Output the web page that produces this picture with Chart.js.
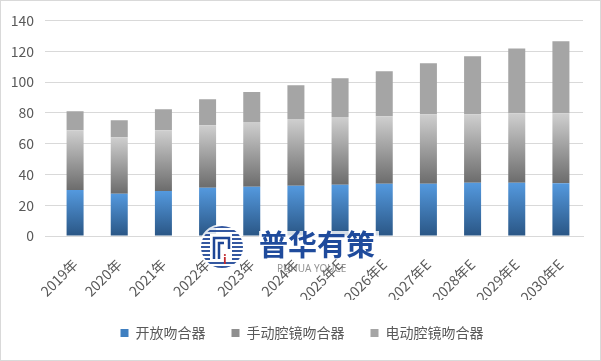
<!DOCTYPE html>
<html>
<head>
<meta charset="utf-8">
<script src="https://cdn.jsdelivr.net/npm/chart.js@4/dist/chart.umd.min.js"></script>
<style>
  body { margin: 0; background: #fff; }
  #box { width: 601px; height: 361px; box-sizing: border-box; border: 1px solid #d9d9d9; position: relative; }
</style>
</head>
<body>
<div id="box"><canvas id="myChart" width="599" height="359"></canvas></div>
<script>
/* 吻合器 market stacked bars */

let years = ["2019年", "2020年", "2021年", "2022年", "2023年", "2024年", "2025年E", "2026年E", "2027年E", "2028年E", "2029年E", "2030年E"];
let openStapler = [29.8, 27.4, 29.2, 31.3, 32.0, 32.6, 33.2, 33.9, 33.9, 34.5, 34.5, 34.3];
let manualStapler = [38.9, 36.8, 39.5, 40.6, 42.1, 43.4, 44.1, 43.9, 45.1, 44.5, 45.2, 45.4];
let electricStapler = [12.3, 11.0, 13.6, 16.9, 19.4, 21.9, 25.1, 29.1, 33.1, 37.7, 42.1, 46.7];
let yTicks = [0, 20, 40, 60, 80, 100, 120, 140];

let seriesData = [openStapler, manualStapler, electricStapler];

// gradient per bar segment, top light -> bottom dark
function segmentFill(topColor, bottomColor) {
  return function (ctx) {
    let chart = ctx.chart;
    let y = chart.scales.y;
    if (!y || ctx.dataIndex === undefined) return bottomColor;
    let i = ctx.dataIndex;
    let base = 0;
    for (let d = 0; d < ctx.datasetIndex; d++) base += seriesData[d][i];
    let top = base + seriesData[ctx.datasetIndex][i];
    let y0 = y.getPixelForValue(base);
    let y1 = y.getPixelForValue(top);
    if (!isFinite(y0) || !isFinite(y1) || y0 === y1) return bottomColor;
    let g = chart.ctx.createLinearGradient(0, y1, 0, y0);
    g.addColorStop(0, topColor);
    g.addColorStop(1, bottomColor);
    return g;
  };
}

// nudge legend a bit right, like the original
let legendShift = {
  id: "legendShift",
  afterLayout(chart) {
    if (chart.legend) {
      chart.legend.left += 10;
      chart.legend.right += 10;
    }
  }
};

let watermark = {
  id: "watermark",
  afterDraw(chart) {
    let c = chart.ctx;
    c.save();
    // logo circle with stripes
    let cx = 221, cy = 246, r = 21;
    c.beginPath();
    c.arc(cx, cy, r + 2, 0, Math.PI * 2);
    c.fillStyle = "rgba(255,255,255,0.85)";
    c.fill();
    c.save();
    c.beginPath();
    c.arc(cx, cy, r, 0, Math.PI * 2);
    c.clip();
    c.fillStyle = "rgba(30,70,150,0.9)";
    for (let yy = cy - r; yy < cy + r; yy += 4) c.fillRect(cx - r, yy, r * 2, 2);
    c.restore();
    c.fillStyle = "#fff";
    c.fillRect(cx - 12, cy - 13, 22, 26);
    c.strokeStyle = "#1e4696";
    c.lineWidth = 2.5;
    c.beginPath();
    c.moveTo(cx - 8, cy + 12); c.lineTo(cx - 8, cy - 9); c.lineTo(cx + 7, cy - 9); c.lineTo(cx + 7, cy + 2);
    c.moveTo(cx - 3, cy + 12); c.lineTo(cx - 3, cy - 4); c.lineTo(cx + 2, cy - 4);
    c.stroke();
    c.fillStyle = "#c0282d";
    c.font = "bold 12px 'Noto Sans CJK SC'";
    c.fillText("i", cx + 1, cy + 12);
    c.fillStyle = "rgba(255,255,255,0.8)";
    c.fillRect(258, 230, 120, 28);
    c.fillStyle = "#1f4b9c";
    c.font = "bold 29px 'Noto Sans CJK SC'";
    c.textBaseline = "middle";
    c.fillText("普华有策", 258, 244);
    c.fillStyle = "rgba(120,120,120,0.8)";
    c.font = "10px 'Noto Sans'";
    c.fillText("PUHUA YOUCE", 276, 268);
    c.restore();
  }
};

new Chart("myChart", {
  type: "bar",
  data: {
    labels: years,
    datasets: [
      {
        label: "开放吻合器",
        data: openStapler,
        backgroundColor: segmentFill("#5499de", "#2a5685"),
      },
      {
        label: "手动腔镜吻合器",
        data: manualStapler,
        backgroundColor: segmentFill("#cfcfcf", "#6c6c6c"),
      },
      {
        label: "电动腔镜吻合器",
        data: electricStapler,
        backgroundColor: "#a5a5a5",
      },
    ],
  },
  options: {
    responsive: false,
    animation: false,
    layout: { padding: { top: 2, right: 17, left: 0, bottom: 10 } },
    datasets: { bar: { categoryPercentage: 1, barPercentage: 0.385 } },
    plugins: {
      tooltip: { enabled: false },
      legend: {
        position: "bottom",
        labels: {
          font: { family: "'Noto Sans CJK SC'", size: 14 },
          color: "#595959",
          boxWidth: 8,
          boxHeight: 8,
          padding: 26,
          generateLabels: function (chart) {
            let cols = ["#3f7fc0", "#8f8f8f", "#a5a5a5"];
            return chart.data.datasets.map((ds, i) => ({
              text: ds.label,
              fillStyle: cols[i],
              strokeStyle: cols[i],
              lineWidth: 0,
              fontColor: "#595959",
              datasetIndex: i,
            }));
          },
        },
      },
    },
    scales: {
      x: {
        stacked: true,
        grid: { display: false },
        border: { color: "#d9d9d9" },
        afterFit: function (scale) { scale.height = 64; },
        ticks: {
          color: "#595959",
          font: { family: "'Noto Sans CJK SC'", size: 14 },
          minRotation: 45,
          maxRotation: 45,
          padding: 12,
        },
      },
      y: {
        stacked: true,
        min: 0,
        max: 140,
        afterBuildTicks: function (axis) {
          axis.ticks = yTicks.map((v) => ({ value: v }));
        },
        afterFit: function (scale) { scale.width = 52; },
        grid: { color: "#d9d9d9" },
        border: { display: false },
        ticks: {
          color: "#595959",
          font: { family: "'Noto Sans CJK SC'", size: 14 },
          padding: 11,
        },
      },
    },
  },
  plugins: [legendShift, watermark],
});
</script>
</body>
</html>
